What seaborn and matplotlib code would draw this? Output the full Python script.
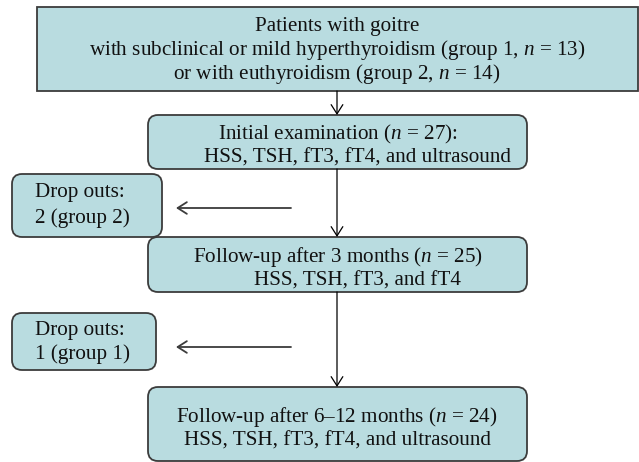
import matplotlib
matplotlib.use("Agg")
import matplotlib.pyplot as plt
from matplotlib.patches import FancyBboxPatch
import seaborn as sns

# box texts (one list per box)
top_lines = ["Patients with goitre",
             "with subclinical or mild hyperthyroidism (group 1, $n$ = 13)",
             "or with euthyroidism (group 2, $n$ = 14)"]
initial_lines = ["Initial examination ($n$ = 27):",
                 "HSS, TSH, fT3, fT4, and ultrasound"]
followup1_lines = ["Follow-up after 3 months ($n$ = 25)",
                   "HSS, TSH, fT3, and fT4"]
followup2_lines = ["Follow-up after 6\u201312 months ($n$ = 24)",
                   "HSS, TSH, fT3, fT4, and ultrasound"]
dropout1_lines = ["Drop outs:", "2 (group 2)"]
dropout2_lines = ["Drop outs:", "1 (group 1)"]

FILL = "#b9dce0"
EDGE = "#3c3c3c"
FONT = "Liberation Serif"
FS = 15.2

sns.set_theme(style="white")
plt.rcParams["font.family"] = [FONT, "DejaVu Serif"]
plt.rcParams["mathtext.fontset"] = "custom"
plt.rcParams["mathtext.rm"] = FONT
plt.rcParams["mathtext.it"] = FONT + ":italic"

fig = plt.figure(figsize=(6.39, 4.62), dpi=100)
ax = fig.add_axes([0, 0, 1, 1])
ax.set_xlim(0, 639)
ax.set_ylim(462, 0)
ax.axis("off")


def box(x0, y0, x1, y1, rounded=True):
    style = "round,pad=0,rounding_size=10" if rounded else "square,pad=0"
    p = FancyBboxPatch((x0, y0), x1 - x0, y1 - y0, boxstyle=style,
                       fc=FILL, ec=EDGE, lw=1.3)
    ax.add_patch(p)


def lines(texts, xs, ys, ha="center"):
    for t, x, y in zip(texts, xs, ys):
        ax.text(x, y + 2, t, ha=ha, va="center", fontsize=FS, color="#111111")


def arrow(x0, y0, x1, y1, lw=0.9, color="black"):
    ax.annotate("", xy=(x1, y1), xytext=(x0, y0),
                arrowprops=dict(arrowstyle="->,head_length=0.55,head_width=0.35",
                                lw=lw, color=color, shrinkA=0, shrinkB=0))


# boxes
box(37, 7, 638, 91, rounded=False)
box(148, 115, 527, 169)
box(12, 174, 162, 237)
box(148, 237, 527, 292)
box(12, 313, 156, 370)
box(148, 387, 527, 461)

lines(top_lines, [337, 337, 337], [25, 48, 72])
lines(initial_lines, [338, 358], [132, 156])
lines(followup1_lines, [338, 358], [255, 279])
lines(followup2_lines, [337, 337], [415, 439])
lines(dropout1_lines, [35, 35], [191, 216], ha="left")
lines(dropout2_lines, [35, 35], [329, 352], ha="left")

# arrows
arrow(337, 91, 337, 115)
arrow(337, 169, 337, 237)
arrow(337, 292, 337, 387)
arrow(291, 208, 176, 208, lw=1.3, color="#3c3c3c")
arrow(291, 347, 176, 347, lw=1.3, color="#3c3c3c")

fig.savefig("out.png", dpi=100)
